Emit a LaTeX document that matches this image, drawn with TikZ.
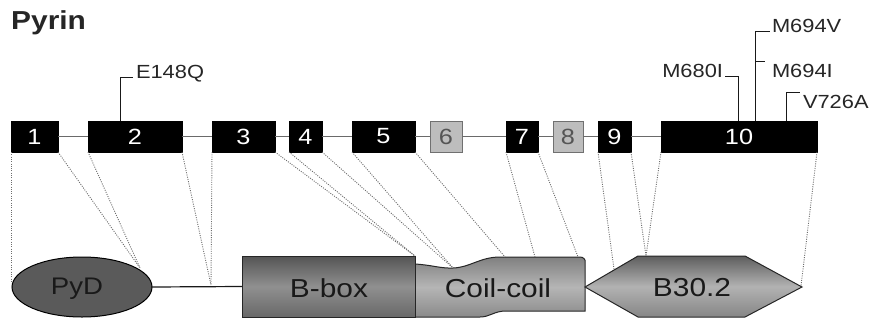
\documentclass[tikz,border=0pt]{standalone}
\usepackage{fontspec}
\setmainfont{Liberation Sans}[FakeStretch=1.15]
\usetikzlibrary{calc,shapes.geometric}
\definecolor{intronc}{HTML}{6A6A6A}
\definecolor{exonfill}{HTML}{BDBDBD}
\definecolor{exonedge}{HTML}{707070}
\definecolor{exontext}{HTML}{555555}
\definecolor{mapc}{HTML}{6E6E6E}
\definecolor{pydfill}{HTML}{5A5A5A}
\definecolor{bTop}{HTML}{545454}
\definecolor{bMid}{HTML}{909090}
\definecolor{bBot}{HTML}{686868}
\definecolor{cTop}{HTML}{808080}
\definecolor{cMid}{HTML}{B5B5B5}
\definecolor{cBot}{HTML}{8A8A8A}
\definecolor{hTop}{HTML}{5E5E5E}
\definecolor{hMid}{HTML}{B2B2B2}
\definecolor{hBot}{HTML}{868686}
\begin{document}
\begin{tikzpicture}[x=1pt,y=-1pt,
  exon/.style={draw=black, fill=black, text=white, minimum height=31pt, inner sep=0pt, outer sep=0pt, font=\fontsize{22}{22}\selectfont},
  exongray/.style={exon, draw=exonedge, line width=0.8pt, fill=exonfill, text=exontext},
  intronline/.style={draw=intronc, line width=1.5pt},
  mut/.style={inner sep=0pt, outer sep=0pt, font=\fontsize{19}{19}\selectfont, text=black!85},
  mutline/.style={draw=black!90, line width=1pt},
  mapline/.style={draw=mapc, dash pattern=on 1pt off 1.3pt, line width=0.9pt},
  dom/.style={draw=black!85, line width=1pt},
  domlabel/.style={font=\fontsize{26}{26}\selectfont, text=black!90, inner sep=0pt}
]
\useasboundingbox (0,0) rectangle (874,324);

% title
\node[anchor=base west, inner sep=0pt, font=\bfseries\fontsize{26}{26}\selectfont, text=black!85] (title) at (11,29) {Pyrin};

% exons
\node[exon, minimum width=47pt] (e1) at (34.5,136.5) {1};
\node[exon, minimum width=94pt] (e2) at (135,136.5) {2};
\node[exon, minimum width=63pt] (e3) at (243.5,136.5) {3};
\node[exon, minimum width=33pt] (e4) at (305.5,136.5) {4};
\node[exon, minimum width=63pt] (e5) at (383.5,136.5) {5};
\node[exongray, minimum width=32pt] (e6) at (446,136.5) {6};
\node[exon, minimum width=32pt] (e7) at (522,136.5) {7};
\node[exongray, minimum width=30pt] (e8) at (568,136.5) {8};
\node[exon, minimum width=33pt] (e9) at (614.5,136.5) {9};
\node[exon, minimum width=156pt] (e10) at (739,136.5) {10};

% introns
\draw[intronline] (e1.east) -- (e2.west);
\draw[intronline] (e2.east) -- (e3.west);
\draw[intronline] (e3.east) -- (e4.west);
\draw[intronline] (e4.east) -- (e5.west);
\draw[intronline] (e5.east) -- (e6.west);
\draw[intronline] (e6.east) -- (e7.west);
\draw[intronline] (e7.east) -- (e8.west);
\draw[intronline] (e8.east) -- (e9.west);
\draw[intronline] (e9.east) -- (e10.west);

% mutations
\node[mut, anchor=base west] (tE) at (136,78) {E148Q};
\node[mut, anchor=base east] (tM) at (723,77) {M680I};
\node[mut, anchor=base west] (tV) at (772,32) {M694V};
\node[mut, anchor=base west] (tI) at (772,77) {M694I};
\node[mut, anchor=base west] (tA) at (803,108) {V726A};
\coordinate (mE) at (120,121);
\coordinate (mM) at (738,121);
\coordinate (mV) at (755,121);
\coordinate (kI) at (755,61);
\coordinate (mA) at (786,121);
\draw[mutline] (mE) |- ([shift={(-3,-1)}]tE.base west);
\draw[mutline] (mM) |- ([shift={(2,-1)}]tM.base east);
\draw[mutline] (mV) |- ([shift={(-2,-1)}]tV.base west);
\draw[mutline] (kI) -- ([xshift=-7]tI.west |- kI);
\draw[mutline] (mA) |- ([shift={(-3,-2)}]tA.north west);

% domains
\coordinate (cA) at (415,264);
\coordinate (cB) at (453,268);
\coordinate (cC) at (500,257);
\coordinate (cD) at (580,257);
\coordinate (cE) at (585,263);
\coordinate (cF) at (585,311);
\coordinate (cG) at (506,311);
\coordinate (cH) at (480,317);
\coordinate (cI) at (415,317);
\path[dom, top color=cTop, bottom color=cBot, middle color=cMid]
  (cA) .. controls (432,265) and (440,268.5) .. (cB)
  .. controls (470,267.5) and (480,257) .. (cC) -- (cD)
  .. controls (583,257) and (586,259) .. (cE) -- (cF) -- (cG)
  .. controls (494,311) and (490,317) .. (cH) -- (cI) -- cycle;
\node[domlabel] (lcoil) at (498,288) {Coil-coil};

\node[dom, rectangle, minimum width=173pt, minimum height=61pt, inner sep=0pt, outer sep=0pt,
  top color=bTop, bottom color=bBot, middle color=bMid] (bbox) at (328.5,286.5) {};
\node[domlabel] (lbbox) at (329,288) {B-box};

\coordinate (hL) at (585,287);
\coordinate (hTL) at (638,256);
\coordinate (hTR) at (745,256);
\coordinate (hR) at (802,287);
\coordinate (hBR) at (745,317);
\coordinate (hBL) at (638,317);
\path[dom, top color=hTop, bottom color=hBot, middle color=hMid]
  (hL) -- (hTL) -- (hTR) -- (hR) -- (hBR) -- (hBL) -- cycle;
\node[domlabel] (lb30) at (692,288) {B30.2};

\node[dom, draw=black, ellipse, fill=pydfill, minimum width=140pt, minimum height=60pt, inner sep=0pt, outer sep=0pt] (pyd) at (82,287) {};
\node[domlabel, font=\fontsize{24}{24}\selectfont] (lpyd) at (77,289) {PyD};

\draw[draw=black!90, line width=1.2pt] (pyd.east) -- (bbox.west);

% mapping lines
\coordinate (dA) at (11.5,283);
\coordinate (dP) at (140,268);
\coordinate (dL) at (211,285);
\coordinate (dC1) at (453,268);
\coordinate (dC2) at (505,257);
\coordinate (dC3) at (535,257);
\coordinate (dC4) at (578,257);
\coordinate (dR1) at (614,269);
\coordinate (dR2) at (646,256);
\coordinate (dR3) at (801,286);
\draw[mapline] ([xshift=0.5]e1.south west) -- (dA);
\draw[mapline] (e1.south east) -- (dP);
\draw[mapline] (e2.south west) -- (dP);
\draw[mapline] (e2.south east) -- (dL);
\draw[mapline] (e3.south west) -- (dL);
\draw[mapline] (e3.south east) -- (bbox.north east);
\draw[mapline] (e4.south west) -- (bbox.north east);
\draw[mapline] (e4.south east) -- (dC1);
\draw[mapline] (e5.south west) -- (dC1);
\draw[mapline] (e5.south east) -- (dC2);
\draw[mapline] (e7.south west) -- (dC3);
\draw[mapline] (e7.south east) -- (dC4);
\draw[mapline] (e9.south west) -- (dR1);
\draw[mapline] (e9.south east) -- (dR2);
\draw[mapline] (e10.south west) -- (dR2);
\draw[mapline] (e10.south east) -- (dR3);
\end{tikzpicture}
\end{document}
